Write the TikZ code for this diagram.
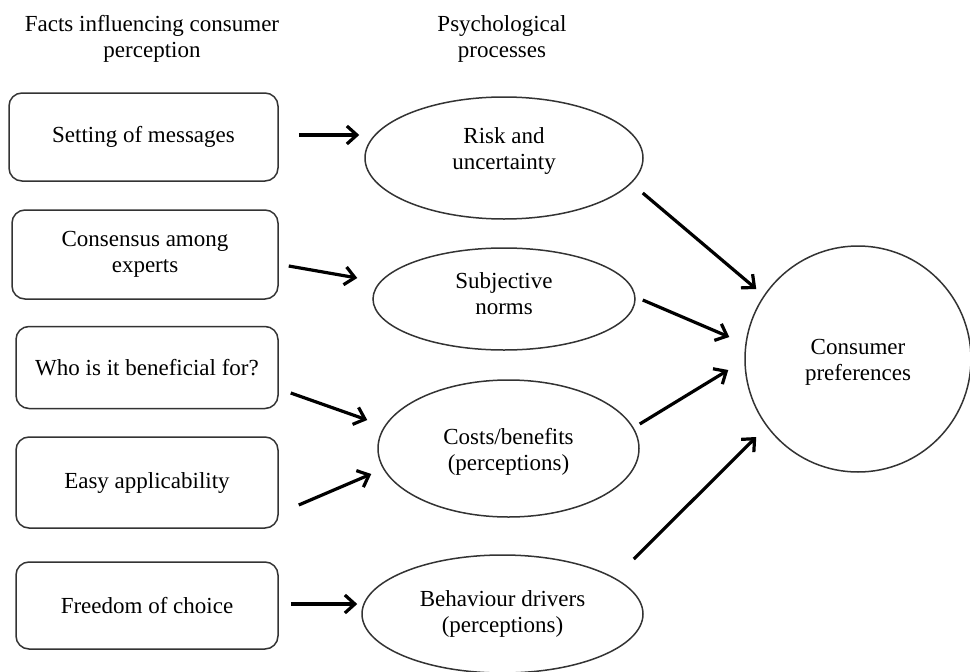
\documentclass[tikz,border=0pt]{standalone}
\usepackage{fontspec}
\setmainfont{Liberation Serif}
\usetikzlibrary{shapes.geometric,arrows.meta,calc}
\definecolor{edgegray}{HTML}{333333}
\begin{document}
\begin{tikzpicture}[x=1pt,y=-1pt,
  txt/.style={font=\fontsize{23}{26}\selectfont, align=center, text=black},
  factbox/.style={txt, draw=edgegray, line width=1.5pt, rounded corners=13pt, inner sep=0pt},
  procell/.style={ellipse, draw=edgegray, line width=1.5pt, inner sep=0pt},
  inlabel/.style={label={[txt, yshift=#1]center:}},
  arr/.style={line width=3.2pt, -{Straight Barb[length=10pt,width=18pt]}},
]
\useasboundingbox (0,0) rectangle (970,672);

% column headings
\node[txt] (h1) at (152,39) {Facts influencing consumer\\perception};
\node[txt] (h2) at (502,39) {Psychological\\processes};

% facts
\node[factbox, minimum width=269pt, minimum height=88pt] (b1) at (143.5,137) {Setting of messages};
\node[factbox, minimum width=266pt, minimum height=89pt] (b2) at (145,254.5) {Consensus among\\experts};
\node[factbox, minimum width=262pt, minimum height=82pt] (b3) at (147,367.5) {Who is it beneficial for?};
\node[factbox, minimum width=262pt, minimum height=91pt] (b4) at (147,482.5) {Easy applicability};
\node[factbox, minimum width=262pt, minimum height=87pt] (b5) at (147,605.5) {Freedom of choice};

% psychological processes (text placed as centred labels)
\node[procell, minimum width=278pt, minimum height=122pt,
      label={[txt, yshift=7pt]center:Risk and\\uncertainty}] (e1) at (504,158) {};
\node[procell, minimum width=262pt, minimum height=102pt,
      label={[txt, yshift=5pt]center:Subjective\\norms}] (e2) at (504,299) {};
\node[procell, minimum width=261pt, minimum height=137pt,
      label={[txt, yshift=-3pt]center:Costs/benefits\\(perceptions)}] (e3) at (508.5,448.5) {};
\node[procell, minimum width=281pt, minimum height=118pt,
      label={[txt]center:Behaviour drivers\\(perceptions)}] (e4) at (502.5,614) {};

% outcome
\node[circle, draw=edgegray, line width=1.5pt, inner sep=0pt, minimum size=226pt,
      label={[txt, yshift=-3pt]center:Consumer\\preferences}] (cp) at (858,359) {};

% facts -> processes
\draw[arr] ($(b1.east)+(20,-2)$) -- ($(e1.west)+(-5,-23)$);
\draw[arr] ($(b2.east)+(10,11.5)$) -- ($(e2.west)+(-15,-21)$);
\draw[arr] ($(b3.east)+(12,25.5)$) -- ($(e3.west)+(-10,-28.5)$);
\draw[arr] ($(b4.east)+(20,22.5)$) -- ($(e3.west)+(-6,25.5)$);
\draw[arr] ($(b5.east)+(12,-1.5)$) -- ($(e4.west)+(-4,-10)$);

% processes -> preferences
\draw[arr] ($(e1.east)+(-1,35)$) -- ($(cp.west)+(12,-70)$);
\draw[arr] ($(e2.east)+(7,1)$) -- ($(cp.west)+(-15,-22)$);
\draw[arr] ($(e3.east)+(0,-24.5)$) -- ($(cp.west)+(-16,11)$);
\draw[arr] ($(e4.east)+(-10,-55)$) -- ($(cp.west)+(12,78)$);
\end{tikzpicture}
\end{document}
